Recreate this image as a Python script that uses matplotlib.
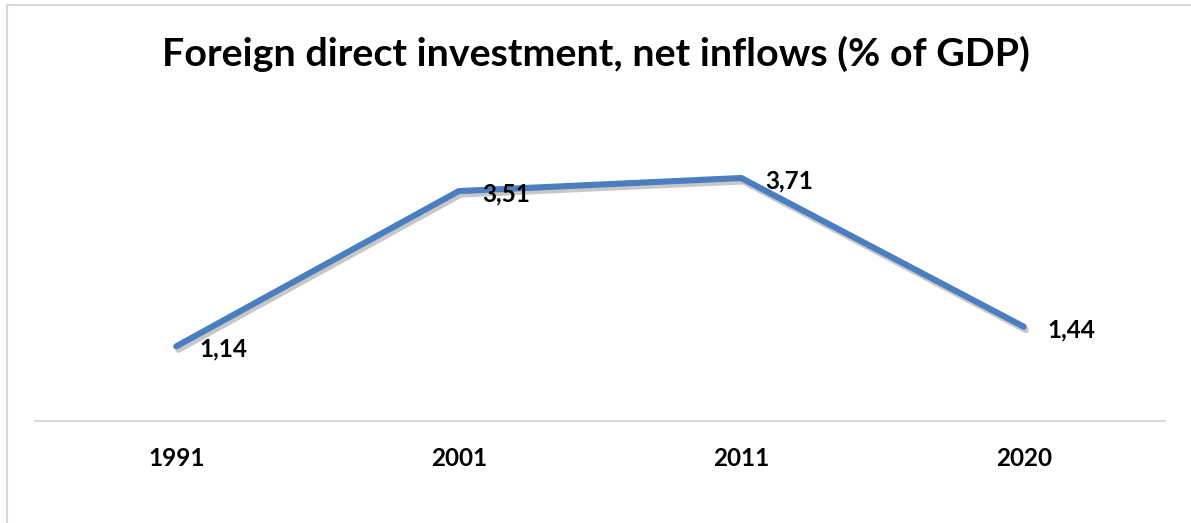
import matplotlib.pyplot as plt
import matplotlib.patheffects as pe
from matplotlib.lines import Line2D

years = ["1991", "2001", "2011", "2020"]
fdi = [1.14, 3.51, 3.71, 1.44]
labels = ["1,14", "3,51", "3,71", "1,44"]

plt.rcParams['font.family'] = ['Lato', 'DejaVu Sans']

fig = plt.figure(figsize=(11.91, 5.23), dpi=100)
ax = fig.add_axes([35/1191, 102/523, 1130/1191, 262/523])

x = range(len(years))
ax.plot(x, fdi, color='#4A7EBF', lw=4.4, solid_capstyle='round', solid_joinstyle='round',
        path_effects=[pe.SimpleLineShadow(offset=(1.5, -2.5), shadow_color='#000000', alpha=0.22),
                      pe.Normal()])

for i, v in enumerate(fdi):
    ax.annotate(labels[i], (i, v), xytext=(17, -2), textcoords='offset points',
                ha='left', va='center', fontsize=17.5, fontweight='bold', color='#000000')

ax.set_xlim(-0.5, 3.5)
ax.set_ylim(0, 4)
ax.set_xticks(list(x))
ax.set_xticklabels(years, fontsize=17.5, fontweight='bold')
ax.tick_params(axis='x', length=0, pad=19)
ax.set_yticks([])
for s in ['top', 'right', 'left']:
    ax.spines[s].set_visible(False)
ax.spines['bottom'].set_color('#D9D9D9')
ax.spines['bottom'].set_linewidth(1.5)

fig.text(0.5, 1 - 54/523, "Foreign direct investment, net inflows (% of GDP)",
         ha='center', va='center', fontsize=28.4, fontweight='bold')

# chart frame edges
fig.add_artist(Line2D([6.5/1191, 6.5/1191], [0, 1 - 5/523], color='#D9D9D9', lw=1.5))
fig.add_artist(Line2D([6.5/1191, 1], [1 - 5/523, 1 - 5/523], color='#D9D9D9', lw=1.5))

fig.savefig('out.png', dpi=100)
